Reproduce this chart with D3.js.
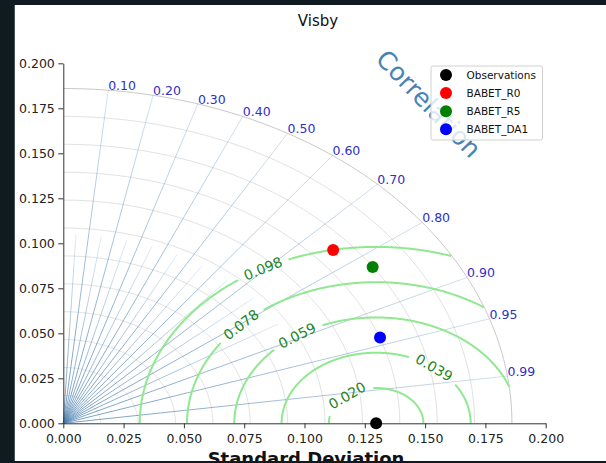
<!DOCTYPE html>
<html>
<head>
<meta charset="utf-8">
<script src="https://cdn.jsdelivr.net/npm/d3@7"></script>
<style>
  html, body { margin: 0; padding: 0; background: #0f1a21; }
  svg { display: block; }
  text { font-family: "DejaVu Sans", sans-serif; }
</style>
</head>
<body>
<div id="chart"></div>
<script>
// --- data
const names = ['Observations', 'BABET_R0', 'BABET_R5', 'BABET_DA1'];
const stdDevs = [0.1297, 0.1476, 0.1549, 0.1397];
const correlations = [1.0, 0.758, 0.828, 0.940];
const markerColors = ['black', 'red', 'green', 'blue'];

// correlation grid
const corrTicks = [0.1, 0.2, 0.3, 0.4, 0.5, 0.6, 0.7, 0.8, 0.9, 0.95, 0.99];
const corrMinor = [0.05, 0.15, 0.25, 0.35, 0.45, 0.55, 0.65, 0.75, 0.85];

// standard deviation grid / axis ticks
const stdTicks = [0, 0.025, 0.05, 0.075, 0.1, 0.125, 0.15, 0.175, 0.2];
const stdArcs = [0.0155, 0.031, 0.0465, 0.062, 0.0775, 0.093, 0.1085, 0.124, 0.1395, 0.155, 0.1705, 0.186];
const stdMax = 0.186;

// centred RMS difference contours
const rmsLevels = [0.0196, 0.0392, 0.0588, 0.0784, 0.098];

// --- layout
const width = 606, height = 463;
const minorLength = 0.105;
// where the inline contour labels sit (degrees around the observation point)
const rmsLabelAngles = [127.8, 52.2, 123.9, 135.6, 118.6];

const x = d3.scaleLinear().domain([0, 0.2]).range([63.3, 545.7]);
const y = d3.scaleLinear().domain([0, 0.2]).range([423.3, 63.3]);

// polar (std, angle) -> pixel
const P = (r, th) => [x(r * Math.cos(th)), y(r * Math.sin(th))];

const svg = d3.select('#chart')
  .append('svg')
  .attr('width', width)
  .attr('height', height);

const defs = svg.append('defs');

// white figure panel
svg.append('rect')
  .attr('x', 14.5).attr('y', 5)
  .attr('width', width - 14.5).attr('height', 456)
  .attr('fill', 'white');

const line = d3.line();

// --- std arcs
svg.append('g')
  .selectAll('path')
  .data(stdArcs)
  .join('path')
    .attr('d', r => line(d3.range(0, 91).map(i => P(r, i / 90 * Math.PI / 2))))
    .attr('fill', 'none')
    .attr('stroke', r => r === stdMax ? '#c9c9c9' : '#e2e2e2')
    .attr('stroke-width', 1);

// --- correlation lines (fade out from the origin)
const radial = [
  ...corrMinor.map(c => ({ c, r: minorLength })),
  ...corrTicks.map(c => ({ c, r: stdMax }))
];

radial.forEach((d, i) => {
  const [x1, y1] = P(0, 0);
  const [x2, y2] = P(d.r, Math.acos(d.c));
  const g = defs.append('linearGradient')
    .attr('id', `cor-grad-${i}`)
    .attr('gradientUnits', 'userSpaceOnUse')
    .attr('x1', x1).attr('y1', y1).attr('x2', x2).attr('y2', y2);
  g.append('stop').attr('offset', '0%').attr('stop-color', '#4a7fb0').attr('stop-opacity', 0.95);
  g.append('stop').attr('offset', '100%').attr('stop-color', '#4a7fb0').attr('stop-opacity', d.r === stdMax ? 0.3 : 0.2);
  d.x1 = x1; d.y1 = y1; d.x2 = x2; d.y2 = y2; d.grad = `url(#cor-grad-${i})`;
});

svg.append('g')
  .selectAll('line')
  .data(radial)
  .join('line')
    .attr('x1', d => d.x1).attr('y1', d => d.y1)
    .attr('x2', d => d.x2).attr('y2', d => d.y2)
    .attr('stroke', d => d.grad)
    .attr('stroke-width', 0.8);

// correlation tick labels
svg.append('g')
  .selectAll('text')
  .data(corrTicks)
  .join('text')
    .attr('x', c => P(stdMax, Math.acos(c))[0])
    .attr('y', c => P(stdMax, Math.acos(c))[1])
    .attr('fill', '#3030c8')
    .attr('font-size', 12.5)
    .text(c => d3.format('.2f')(c));

// --- RMS contours around the observation point
const obsStd = stdDevs[0];
const fmtRms = d3.format('.3f');

const contours = rmsLevels.map((L, i) => {
  const phi = rmsLabelAngles[i] * Math.PI / 180;
  const lx = x(obsStd + L * Math.cos(phi));
  const ly = y(L * Math.sin(phi));
  // screen-space tangent for the label rotation
  const dX = -Math.sin(phi) * (x(1) - x(0));
  const dY = Math.cos(phi) * (y(1) - y(0));
  let rot = Math.atan2(dY, dX) * 180 / Math.PI;
  if (rot > 90) rot -= 180;
  if (rot < -90) rot += 180;
  const label = fmtRms(L);
  const gap = label.length * 0.57 * 14 / 2 + 7;
  const pts = d3.range(0, 721).map(k => {
    const a = k / 720 * Math.PI;
    const sx = obsStd + L * Math.cos(a);
    const sy = L * Math.sin(a);
    const px = x(sx), py = y(sy);
    const inside = Math.hypot(sx, sy) <= stdMax && sx >= 0;
    const clear = Math.hypot(px - lx, py - ly) > gap;
    return { px, py, ok: inside && clear };
  });
  return { L, lx, ly, rot, label, pts };
});

const contourLine = d3.line()
  .defined(d => d.ok)
  .x(d => d.px)
  .y(d => d.py);

svg.append('g')
  .selectAll('path')
  .data(contours)
  .join('path')
    .attr('d', d => contourLine(d.pts))
    .attr('fill', 'none')
    .attr('stroke', '#90e890')
    .attr('stroke-width', 2);

svg.append('g')
  .selectAll('text')
  .data(contours)
  .join('text')
    .attr('transform', d => `translate(${d.lx},${d.ly}) rotate(${d.rot})`)
    .attr('text-anchor', 'middle')
    .attr('dy', '0.36em')
    .attr('fill', '#1d851d')
    .attr('font-size', 14)
    .text(d => d.label);

// --- axes
const fmtTick = d3.format('.3f');

const yAxis = svg.append('g')
  .attr('transform', `translate(${x(0)},0)`)
  .call(d3.axisLeft(y).tickValues(stdTicks).tickFormat(fmtTick).tickSize(5).tickSizeOuter(0).tickPadding(3.5));

const xAxis = svg.append('g')
  .attr('transform', `translate(0,${y(0)})`)
  .call(d3.axisBottom(x).tickValues(stdTicks).tickFormat(fmtTick).tickSize(5).tickSizeOuter(0).tickPadding(5.5));

[xAxis, yAxis].forEach(a => {
  a.attr('font-family', null).attr('font-size', null);
  a.select('.domain').attr('stroke', '#333').attr('stroke-width', 1);
  a.selectAll('.tick line').attr('stroke', '#333');
  a.selectAll('.tick text').attr('fill', '#222').attr('font-size', 12.5);
});

// --- markers
const points = names.map((name, i) => ({
  name,
  color: markerColors[i],
  pos: P(stdDevs[i], Math.acos(correlations[i]))
}));

svg.append('g')
  .selectAll('circle')
  .data([...points.slice(1), points[0]])
  .join('circle')
    .attr('cx', d => d.pos[0])
    .attr('cy', d => d.pos[1])
    .attr('r', 6)
    .attr('fill', d => d.color);

// --- titles
svg.append('text')
  .attr('x', 318).attr('y', 26)
  .attr('text-anchor', 'middle')
  .attr('font-size', 15)
  .attr('fill', '#111')
  .text('Visby');

svg.append('text')
  .attr('transform', `translate(${x(0.1515)},${y(0.1775)}) rotate(46)`)
  .attr('text-anchor', 'middle')
  .attr('dy', '0.35em')
  .attr('font-size', 25)
  .attr('fill', '#4682b4')
  .text('Correlation');

svg.append('text')
  .attr('x', 306).attr('y', 465)
  .attr('text-anchor', 'middle')
  .attr('font-size', 18)
  .attr('font-weight', 'bold')
  .attr('fill', '#111')
  .text('Standard Deviation');

// --- legend
const legend = svg.append('g').attr('transform', 'translate(431,66)');

legend.append('rect')
  .attr('width', 111.5).attr('height', 74)
  .attr('rx', 2)
  .attr('fill', 'white').attr('fill-opacity', 0.8)
  .attr('stroke', '#d0d0d0');

const rows = legend.selectAll('g.row')
  .data(points)
  .join('g')
    .attr('class', 'row')
    .attr('transform', (d, i) => `translate(0,${9 + i * 18.1})`);

rows.append('circle')
  .attr('cx', 15).attr('r', 6)
  .attr('fill', d => d.color);

rows.append('text')
  .attr('x', 35.5).attr('dy', '0.35em')
  .attr('font-size', 10.5)
  .attr('fill', '#111')
  .text(d => d.name);

// --- dark page frame on top (crops the x label like the screenshot)
const frame = svg.append('g').attr('fill', '#0f1a21');
frame.append('rect').attr('x', 0).attr('y', 0).attr('width', width).attr('height', 5);
frame.append('rect').attr('x', 0).attr('y', 0).attr('width', 14.5).attr('height', height);
frame.append('rect').attr('x', 0).attr('y', 461).attr('width', width).attr('height', height - 461);
</script>
</body>
</html>
